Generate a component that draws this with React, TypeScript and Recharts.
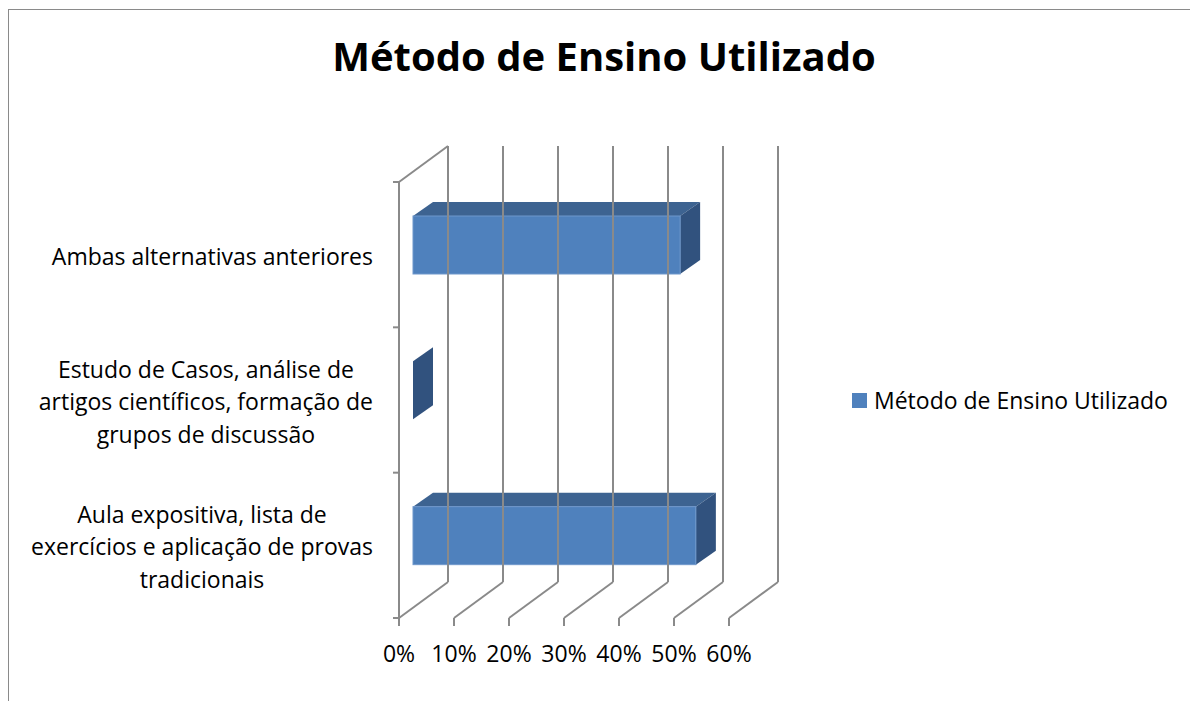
import React from 'react';
import { BarChart, Bar, XAxis, YAxis, Legend } from 'recharts';

// ---------- data ----------
const categories = [
  'Ambas alternativas anteriores',
  'Estudo de Casos, análise de artigos científicos, formação de grupos de discussão',
  'Aula expositiva, lista de exercícios e aplicação de provas tradicionais',
];
const categoryLines = [
  ['Ambas alternativas anteriores'],
  ['Estudo de Casos, análise de', 'artigos científicos, formação de', 'grupos de discussão'],
  ['Aula expositiva, lista de', 'exercícios e aplicação de provas', 'tradicionais'],
];
const values = [0.4857, 0, 0.5143];
const xTicks = [0, 0.1, 0.2, 0.3, 0.4, 0.5, 0.6];
const seriesName = 'Método de Ensino Utilizado';
const chartTitle = 'Método de Ensino Utilizado';

const data = categories.map((c, i) => ({ name: c, value: values[i] }));

// ---------- layout ----------
const W = 1190;
const H = 693;
const PLOT_LEFT = 391;
const PLOT_TOP = 174;
const PLOT_BOTTOM = 610;
const PLOT_RIGHT = 721;
const DEPTH_DX = 49;
const DEPTH_DY = 36;
const BAR_OFF_DX = 14;
const BAR_OFF_DY = 10;
const BAR_DEPTH_DX = 20;
const BAR_DEPTH_DY = 14;
const GRID = '#8a8a8a';
const GRID_W = 2;
const FONT = '"Open Sans", sans-serif';
const FS = 23;
const LINE_H = 32.5;

let ctx: CanvasRenderingContext2D | null = null;
const measure = (t: string) => {
  if (!ctx) ctx = document.createElement('canvas').getContext('2d');
  if (!ctx) return t.length * FS * 0.5;
  ctx.font = `${FS}px "Open Sans"`;
  return ctx.measureText(t).width;
};

const XTick = (props: any) => {
  const { x, y, payload } = props;
  const bx = x + DEPTH_DX;
  const by = y - DEPTH_DY;
  const topBack = PLOT_TOP - DEPTH_DY;
  return (
    <g>
      {payload.value === 0 && (
        <g>
          <line x1={x} y1={y} x2={x} y2={PLOT_TOP} stroke={GRID} strokeWidth={GRID_W} />
          <line x1={x} y1={PLOT_TOP} x2={bx} y2={topBack} stroke={GRID} strokeWidth={GRID_W} />
        </g>
      )}
      <line x1={bx} y1={topBack} x2={bx} y2={by} stroke={GRID} strokeWidth={GRID_W} />
      <line x1={x} y1={y} x2={bx} y2={by} stroke={GRID} strokeWidth={GRID_W} />
      <line x1={x} y1={y} x2={x} y2={y + 8} stroke={GRID} strokeWidth={GRID_W} />
      <text x={x} y={y + 44} textAnchor="middle" fontFamily={FONT} fontSize={FS} fill="#000">
        {`${Math.round(payload.value * 100)}%`}
      </text>
    </g>
  );
};

const YTick = (props: any) => {
  const { x, y, payload, index } = props;
  const idx = categories.indexOf(payload.value);
  const lines = categoryLines[idx >= 0 ? idx : index] || [String(payload.value)];
  const band = (PLOT_BOTTOM - PLOT_TOP) / categories.length;
  const maxW = Math.max(...lines.map(measure));
  const right = x - 26;
  const cx = right - maxW / 2;
  const first = y + 10 - ((lines.length - 1) / 2) * LINE_H;
  const isLast = (idx >= 0 ? idx : index) === categories.length - 1;
  return (
    <g>
      <line x1={x - 6} y1={y - band / 2} x2={x} y2={y - band / 2} stroke={GRID} strokeWidth={GRID_W} />
      {isLast && (
        <line x1={x - 6} y1={y + band / 2} x2={x} y2={y + band / 2} stroke={GRID} strokeWidth={GRID_W} />
      )}
      {lines.map((l: string, i: number) => (
        <text key={i} x={cx} y={first + i * LINE_H} textAnchor="middle" fontFamily={FONT} fontSize={FS} fill="#000">
          {l}
        </text>
      ))}
    </g>
  );
};

const Bar3D = (props: any) => {
  const { x, y, width, height } = props;
  const w = Math.max(0, width || 0);
  const fx = x + BAR_OFF_DX;
  const fy = y - BAR_OFF_DY;
  const top = `${fx},${fy} ${fx + w},${fy} ${fx + w + BAR_DEPTH_DX},${fy - BAR_DEPTH_DY} ${fx + BAR_DEPTH_DX},${fy - BAR_DEPTH_DY}`;
  const side = `${fx + w},${fy} ${fx + w + BAR_DEPTH_DX},${fy - BAR_DEPTH_DY} ${fx + w + BAR_DEPTH_DX},${fy + height - BAR_DEPTH_DY} ${fx + w},${fy + height}`;
  return (
    <g>
      {w > 0 && <polygon points={top} fill="#3D6391" />}
      <polygon points={side} fill="#31527E" />
      {w > 0 && <rect x={fx} y={fy} width={w} height={height} fill="#4F81BD" stroke="#6F97CB" strokeWidth={1} />}
    </g>
  );
};

const LegendContent = () => (
  <div style={{ display: 'flex', alignItems: 'center', fontFamily: FONT, fontSize: FS, lineHeight: '31px', color: '#000', whiteSpace: 'nowrap' }}>
    <span style={{ display: 'inline-block', width: 15, height: 15, background: '#4F81BD', marginRight: 7 }} />
    <span>{seriesName}</span>
  </div>
);

export default function App() {
  return (
    <div style={{ position: 'relative', width: W, height: H }}>
      <div
        style={{
          position: 'absolute',
          left: -1,
          top: 1,
          width: W + 10,
          height: H,
          borderLeft: '2px solid #8a8a8a',
          borderTop: '1px solid #8a8a8a',
          boxSizing: 'border-box',
        }}
      />
      <div
        style={{
          position: 'absolute',
          left: 196,
          top: 21,
          width: 800,
          textAlign: 'center',
          fontFamily: FONT,
          fontWeight: 700,
          fontSize: 40,
          lineHeight: '54px',
          color: '#000',
        }}
      >
        {chartTitle}
      </div>
      <div style={{ position: 'absolute', left: 0, top: 0 }}>
        <BarChart
          width={W}
          height={H}
          data={data}
          layout="vertical"
          margin={{ top: PLOT_TOP, right: W - PLOT_RIGHT, bottom: 0, left: 0 }}
          barCategoryGap={0}
        >
          <XAxis
            type="number"
            domain={[0, 0.6]}
            ticks={xTicks}
            interval={0}
            height={H - PLOT_BOTTOM}
            axisLine={false}
            tickLine={false}
            tickSize={0}
            tickMargin={0}
            tick={<XTick />}
            zIndex={-100}
          />
          <YAxis
            type="category"
            dataKey="name"
            width={PLOT_LEFT}
            axisLine={false}
            tickLine={false}
            tickSize={0}
            tickMargin={0}
            interval={0}
            tick={<YTick />}
            zIndex={-100}
          />
          <Legend
            layout="horizontal"
            align="center"
            verticalAlign="middle"
            content={<LegendContent />}
            wrapperStyle={{ left: 844, top: 377, width: 'auto', height: 'auto' }}
          />
          <Bar dataKey="value" name={seriesName} barSize={58} shape={<Bar3D />} isAnimationActive={false} />
        </BarChart>
      </div>
    </div>
  );
}
